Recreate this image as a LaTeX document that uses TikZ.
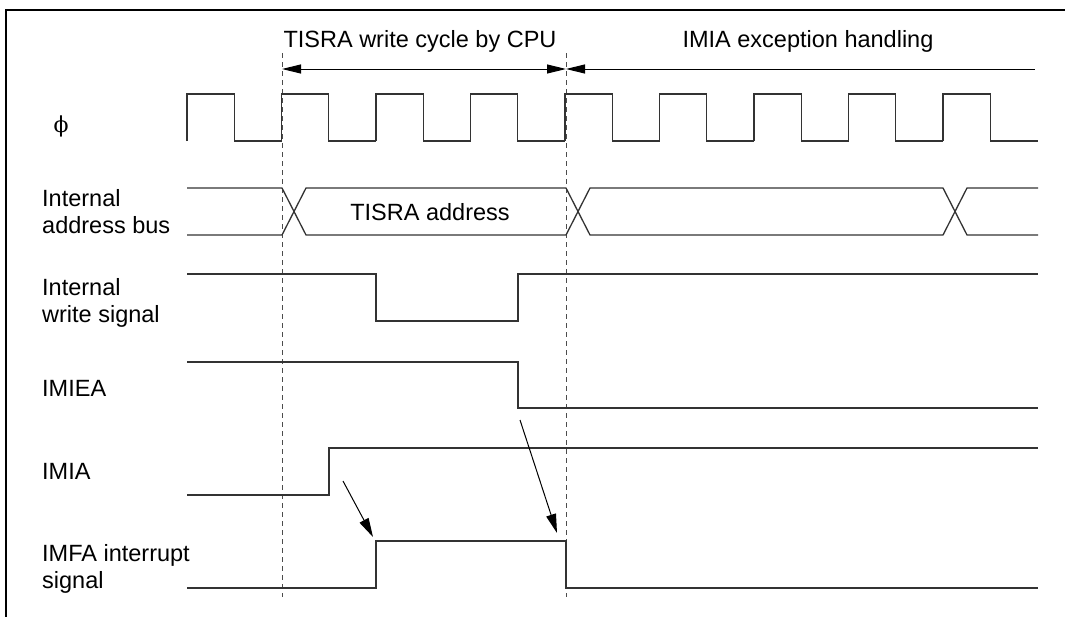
\documentclass[tikz,border=0pt]{standalone}
\usepackage{fontspec}
\setmainfont{Liberation Sans}
\newfontfamily\greekfont{DejaVu Serif}
\usetikzlibrary{arrows.meta}

\begin{document}
\begin{tikzpicture}[
    x=1pt, y=-1pt,
    wave/.style={
        line width=1.3pt,
        draw=black!80,
        line join=miter
    },
    guide/.style={
        line width=0.9pt,
        draw=black!70,
        dash pattern=on 5pt off 4pt
    },
    sigtext/.style={
        anchor=base west,
        align=left,
        inner sep=0pt,
        font=\fontsize{23.5}{27}\selectfont
    },
    headtext/.style={
        inner sep=0pt,
        font=\fontsize{23.5}{27}\selectfont
    },
    period/.style={{Triangle[length=19pt,width=9pt]}-{Triangle[length=19pt,width=9pt]}, line width=1pt},
    startarrow/.style={{Triangle[length=19pt,width=9pt]}-, line width=1pt},
    cause/.style={-{Triangle[length=19pt,width=10pt]}, line width=1pt},
]

\useasboundingbox (0,0) rectangle (1065,616);

% Frame
\draw[line width=2.5pt] (6,10) rectangle (1080,640);

% Headings
\node[headtext] (cpuwrite) at (420,41) {TISRA write cycle by CPU};
\node[headtext] (exchandle) at (808,41) {IMIA exception handling};

% Guides
\coordinate (g1top) at (282,53);
\coordinate (g1bot) at (282,597);
\coordinate (g2top) at (566,53);
\coordinate (g2bot) at (566,597);
\draw[guide] (g1top) -- (g1bot);
\draw[guide] (g2top) -- (g2bot);

\coordinate (p1) at (282,69);
\coordinate (p2) at (566,69);
\coordinate (p3) at (1035,69);
\draw[period] (p1) -- (p2);
\draw[startarrow] (p2) -- (p3);

% Signal names (base = last line)
\node[inner sep=0pt, font=\fontsize{22}{27}\greekfont] (phi) at (61,126) {ϕ};
\node[sigtext] (addrname) at (42,233) {Internal\\address bus};
\node[sigtext] (wrname) at (42,322) {Internal\\write signal};
\node[sigtext] (ienname) at (42,396) {IMIEA};
\node[sigtext] (imianame) at (42,479) {IMIA};
\node[sigtext] (imfaname) at (42,588) {IMFA interrupt\\signal};

% === CLOCK ===
\foreach \i in {0,...,8} {
    \draw[wave] ({187+94.5*\i},141) -- ++(0,-47) -- ++(47.25,0) -- ++(0,47) -- ++(47.25,0);
}

% === ADDRESS BUS ===
\draw[wave] (187,188) -- (282,188) -- (306,235) -- (566,235) -- (590,188)
    -- (943,188) -- (967,235) -- (1038,235);
\draw[wave] (187,235) -- (282,235) -- (306,188) -- (566,188) -- (590,235)
    -- (943,235) -- (967,188) -- (1038,188);
\node[headtext] (tisraaddr) at (430,212) {TISRA address};

% === WRITE SIGNAL ===
\draw[wave] (187,274) -- (376,274) -- (376,321) -- (518,321) -- (518,274) -- (1038,274);

% === IMIEA ===
\draw[wave] (187,362) -- (518,362) -- (518,408) -- (1038,408);

% === IMIA ===
\draw[wave] (187,495) -- (329,495) -- (329,448) -- (1038,448);

% === IMFA ===
\draw[wave] (187,588) -- (376,588) -- (376,541) -- (566,541) -- (566,588) -- (1038,588);

% Arrows
\coordinate (imiafrom) at (343,481);
\coordinate (imfarise) at (373,537);
\coordinate (ienfrom) at (520,420);
\coordinate (imfafall) at (557,533);
\draw[cause] (imiafrom) -- (imfarise);
\draw[cause] (ienfrom) -- (imfafall);

\end{tikzpicture}
\end{document}
